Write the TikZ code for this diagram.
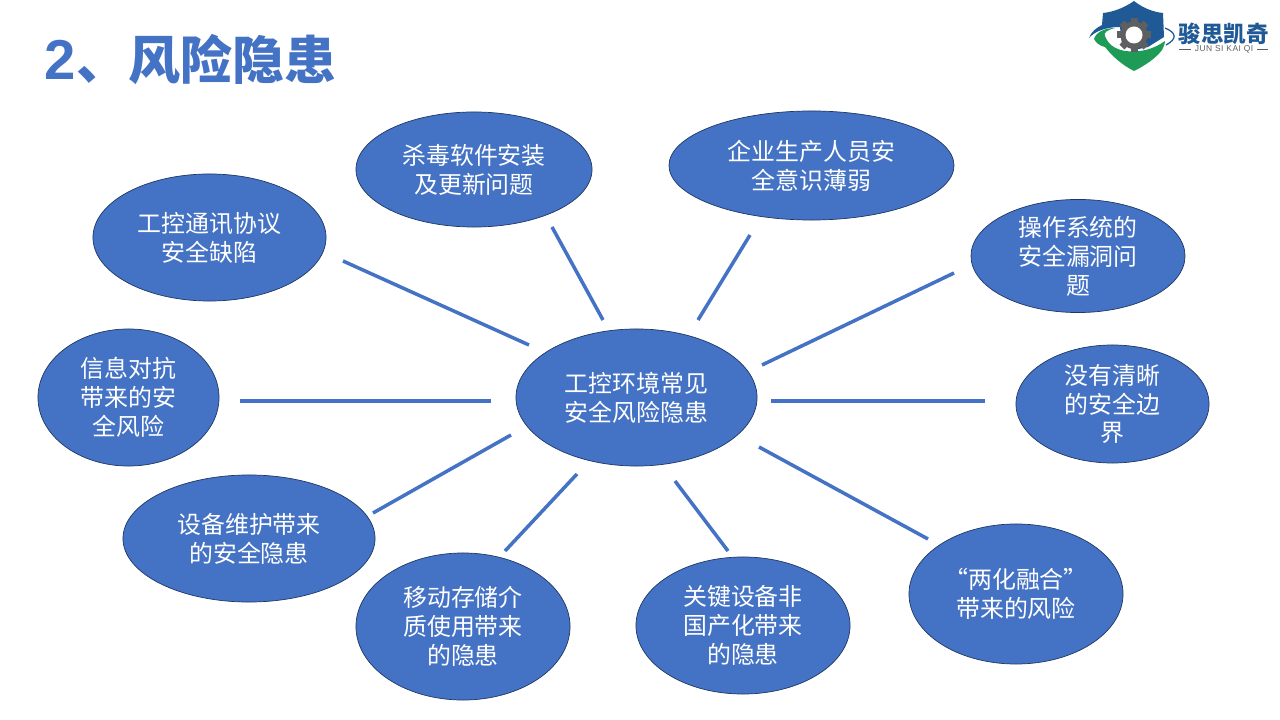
\documentclass[tikz,border=0pt]{standalone}
\usepackage{fontspec}
\usetikzlibrary{shapes.geometric}
\setmainfont{Noto Sans CJK SC}
\newfontfamily\latinfont{Liberation Sans}
\newfontfamily\brandfont[LetterSpace=6]{Liberation Sans}
\definecolor{riskblue}{HTML}{4472C4}
\definecolor{edgeblue}{HTML}{1F3864}
\definecolor{logoblue}{HTML}{1F5A96}
\definecolor{logogreen}{HTML}{1E9B57}
\definecolor{logogrey}{HTML}{5F5F5F}
\begin{document}
\begin{tikzpicture}[x=0.025cm,y=-0.025cm]
%%%%%%%%%%%%%%%%%%%%%%%%%%%%%%%%%%%%%%%%%%%%%%%%%%%%%%%%
% STYLE
\tikzstyle{risk}=[ellipse,draw=edgeblue,line width=0.5pt,fill=riskblue,text=white,inner sep=0pt,align=center,font=\fontsize{17}{20.6}\selectfont]
\tikzstyle{title}=[text=riskblue,anchor=west,font=\fontsize{37}{40}\selectfont\bfseries]
\tikzstyle{brand}=[text=logoblue,inner sep=0pt,font=\fontsize{16}{16}\selectfont\bfseries]
\tikzstyle{brandsub}=[text=logogrey,inner sep=0pt,font=\brandfont\fontsize{6}{6}\selectfont]

\tikzset{link/.style={line width=2.5pt,draw=riskblue}}

\useasboundingbox (0,0) rectangle (1280,720);
%%%%%%%%%%%%%%%%%%%%%%%%%%%%%%%%%%%%%%%%%%%%%%%%%%%%%%%%
% LOGO
\fill[logoblue] (1134,1) .. controls (1124,8) and (1113,12) .. (1103,13) -- (1102,25) .. controls (1096,28) and (1091,32) .. (1089,38) .. controls (1094,32) and (1105,27) .. (1120,27) -- (1122,45) -- (1134,50) -- (1148,47) -- (1164,37) -- (1163,13) .. controls (1153,12) and (1143,8) .. (1134,1) -- cycle;
\draw[logoblue,line width=0.9pt] (1165,28) .. controls (1177,33) and (1177,39) .. (1166,45);
\fill[logogreen] (1094,39) .. controls (1096,32) and (1105,28) .. (1115,28) .. controls (1107,30) and (1103,33) .. (1105,36) .. controls (1108,44) and (1114,49) .. (1125,51) .. controls (1140,53) and (1154,49) .. (1165,41) .. controls (1165,44) and (1163,48) .. (1162,50) .. controls (1156,58) and (1146,65) .. (1134,71) .. controls (1122,65) and (1112,56) .. (1105,47) .. controls (1100,46) and (1096,43) .. (1094,39) -- cycle;
\foreach \ang in {0,45,...,315}
  \fill[logogrey,rotate around={\ang:(1134,35)}] (1130.5,18) rectangle (1137.5,24);
\fill[logogrey] (1134,35) circle (13.5);
\fill[white] (1134,35) circle (8.5);
\node[brand] (brandname) at (1223.5,34) {骏思凯奇};
\node[brandsub] (brandtxt) at (1224,49) {JUN SI KAI QI};
\coordinate (ruleA) at (1179,49);
\coordinate (ruleB) at (1191,49);
\coordinate (ruleC) at (1257,49);
\coordinate (ruleD) at (1268,49);
\draw[logogrey,line width=0.5pt] (ruleA) -- (ruleB) (ruleC) -- (ruleD);
%%%%%%%%%%%%%%%%%%%%%%%%%%%%%%%%%%%%%%%%%%%%%%%%%%%%%%%%
% NODES
\node[title] (head) at (40,60) {{\latinfont\fontsize{40}{40}\selectfont 2}、风险隐患};

\node[risk,minimum width=6.025cm,minimum height=3.425cm] (hub) at (636.5,397.5) {工控环境常见\\安全风险隐患};

\node[risk,minimum width=5.825cm,minimum height=3.175cm] (protocol) at (209.5,237.5) {工控通讯协议\\安全缺陷};
\node[risk,minimum width=5.9cm,minimum height=2.875cm] (antivirus) at (474,169.5) {杀毒软件安装\\及更新问题};
\node[risk,minimum width=7.125cm,minimum height=2.725cm] (staff) at (811.5,165.5) {企业生产人员安\\全意识薄弱};
\node[risk,minimum width=5.35cm,minimum height=2.65cm] (system) at (1078,256) {操作系统的\\安全漏洞问\\题};
\node[risk,minimum width=4.825cm,minimum height=2.95cm] (border) at (1112.5,404) {没有清晰\\的安全边\\界};
\node[risk,minimum width=5.35cm,minimum height=3.5cm] (fusion) at (1016,594) {“两化融合”\\带来的风险};
\node[risk,minimum width=5.35cm,minimum height=3.425cm] (device) at (743,625.5) {关键设备非\\国产化带来\\的隐患};
\node[risk,minimum width=5.35cm,minimum height=3.675cm] (storage) at (463,626.5) {移动存储介\\质使用带来\\的隐患};
\node[risk,minimum width=6.3cm,minimum height=3.175cm] (upkeep) at (249,538.5) {设备维护带来\\的安全隐患};
\node[risk,minimum width=4.525cm,minimum height=3.425cm] (conflict) at (128.5,397.5) {信息对抗\\带来的安\\全风险};
%%%%%%%%%%%%%%%%%%%%%%%%%%%%%%%%%%%%%%%%%%%%%%%%%%%%%%%%
% LINKS
\coordinate (protocolA) at (343,261);
\coordinate (protocolB) at (529,345);
\coordinate (antivirusA) at (552,227);
\coordinate (antivirusB) at (603,320);
\coordinate (staffA) at (750,235);
\coordinate (staffB) at (698,320);
\coordinate (systemA) at (954,273);
\coordinate (systemB) at (762,365);
\coordinate (conflictA) at (240,401);
\coordinate (conflictB) at (491,401);
\coordinate (borderA) at (985,401);
\coordinate (borderB) at (771,401);
\coordinate (upkeepA) at (373,513);
\coordinate (upkeepB) at (511,435);
\coordinate (storageA) at (505,551);
\coordinate (storageB) at (577,474);
\coordinate (deviceA) at (728,551);
\coordinate (deviceB) at (675,481);
\coordinate (fusionA) at (928,539);
\coordinate (fusionB) at (759,447);

\foreach \name in {protocol,antivirus,staff,system,conflict,border,upkeep,storage,device,fusion}
  \draw[link] (\name A) -- (\name B);
\end{tikzpicture}
\end{document}
